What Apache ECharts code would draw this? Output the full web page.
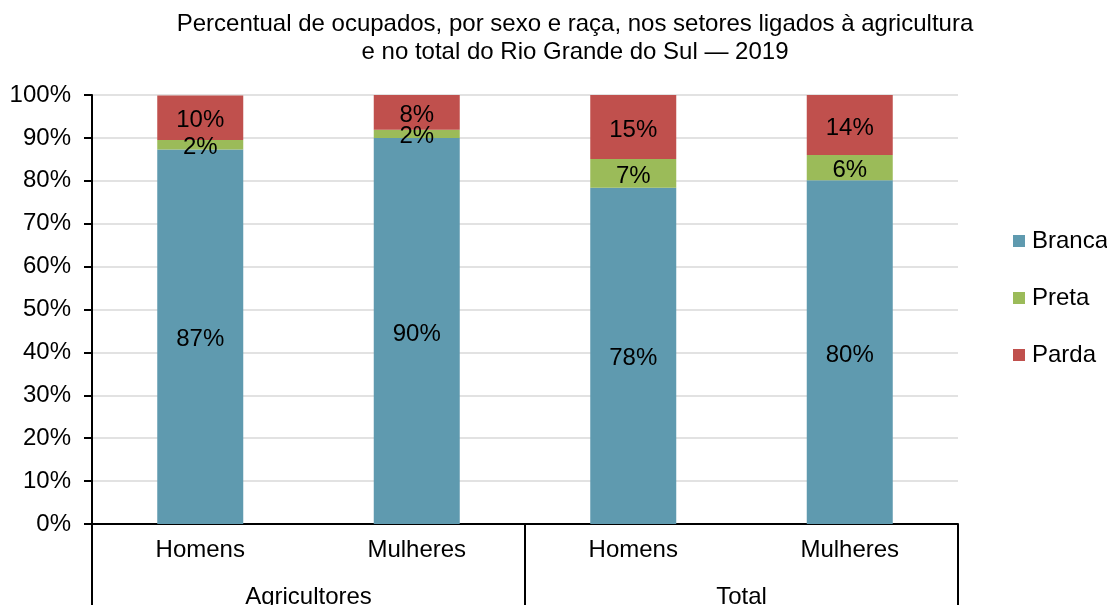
<!DOCTYPE html>
<html lang="pt">
<head>
<meta charset="UTF-8">
<title>Percentual de ocupados — RS 2019</title>
<script src="https://cdn.jsdelivr.net/npm/echarts@6/dist/echarts.min.js"></script>
<style>
  html, body { margin: 0; padding: 0; background: #fff; }
  #chart { width: 1107px; height: 605px; }
</style>
</head>
<body>
<div id="chart"></div>
<script>
// dados
const sexos = ["Homens", "Mulheres", "Homens", "Mulheres"];
const grupos = ["Agricultores", "Total"];
const branca = [87.3, 90.0, 78.4, 80.1];
const preta = [2.2, 1.9, 6.7, 5.9];
const parda = [10.4, 8.1, 14.9, 14.0];

const fonte = "Liberation Sans, Arial, sans-serif";
const cores = { Branca: "#5F9AAF", Preta: "#9BBB59", Parda: "#C0504D" };

const chart = echarts.init(document.getElementById("chart"));

const rotulo = {
    show: true,
    position: "inside",
    offset: [0, 3],
    color: "#000",
    fontFamily: fonte,
    fontSize: 24,
    formatter: (p) => Math.round(p.value) + "%"
};

const serie = (nome, valores) => ({
    name: nome,
    type: "bar",
    stack: "total",
    barWidth: 86,
    data: valores,
    itemStyle: { color: cores[nome] },
    label: rotulo,
    emphasis: { disabled: true }
});

chart.setOption({
    animation: false,
    textStyle: { fontFamily: fonte },
    title: {
        text: "Percentual de ocupados, por sexo e raça, nos setores ligados à agricultura\ne no total do Rio Grande do Sul — 2019",
        left: 570,
        textAlign: "center",
        top: 5,
        textStyle: { fontSize: 24, fontWeight: "normal", color: "#000", lineHeight: 28, fontFamily: fonte }
    },
    legend: {
        orient: "vertical",
        left: 1008,
        top: 224,
        itemWidth: 12,
        itemHeight: 12,
        itemGap: 33,
        icon: "rect",
        textStyle: { fontSize: 24, color: "#000", fontFamily: fonte, padding: [0, 0, 0, 2] },
        data: ["Branca", "Preta", "Parda"]
    },
    grid: { left: 92, right: 149, top: 95, bottom: 81, containLabel: false, outerBoundsMode: "none" },
    xAxis: [
        {
            type: "category",
            data: sexos,
            axisLine: { lineStyle: { color: "#000", width: 2 } },
            axisTick: { show: false },
            axisLabel: { color: "#000", fontSize: 24, margin: 14, fontFamily: fonte }
        },
        {
            type: "category",
            data: grupos,
            position: "bottom",
            axisLine: { show: false },
            axisTick: { show: true, length: 82, lineStyle: { color: "#000", width: 2 } },
            axisLabel: { color: "#000", fontSize: 24, margin: 61, fontFamily: fonte }
        }
    ],
    yAxis: {
        type: "value",
        min: 0,
        max: 100,
        interval: 10,
        axisLine: { show: true, lineStyle: { color: "#000", width: 2 } },
        axisTick: { show: true, length: 8, lineStyle: { color: "#000", width: 2 } },
        axisLabel: { color: "#000", fontSize: 24, margin: 21, padding: [5, 0, 0, 0], formatter: "{value}%", fontFamily: fonte },
        splitLine: { lineStyle: { color: "#D9D9D9", width: 1.5 } }
    },
    series: [
        serie("Branca", branca),
        serie("Preta", preta),
        serie("Parda", parda)
    ]
});
</script>
</body>
</html>
